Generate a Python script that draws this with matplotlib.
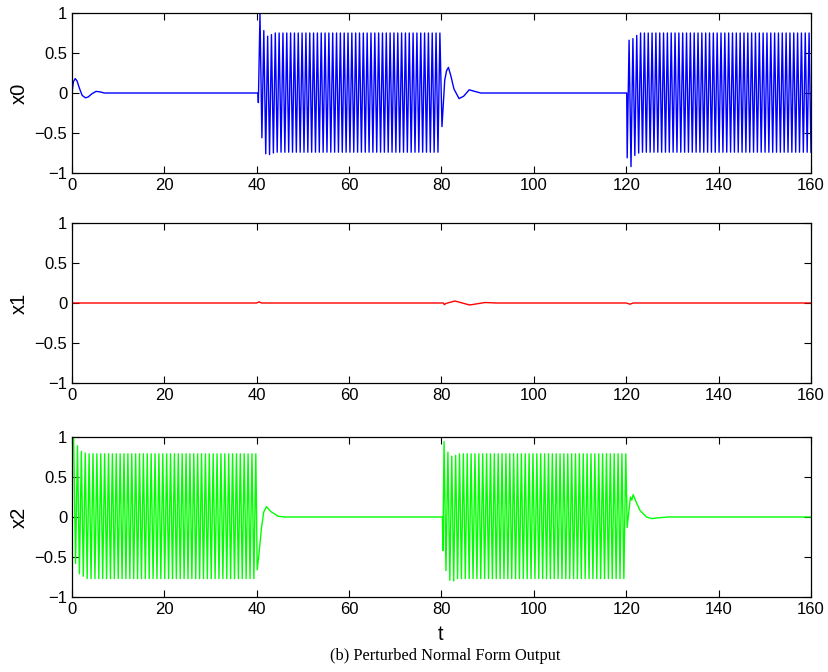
import matplotlib.pyplot as plt
import numpy as np

plt.rcParams['font.family'] = ['Liberation Sans', 'DejaVu Sans']

# ---- data ----
# x0: quiet decay, burst 40-80, decay, burst 120-160
x0_pre1_t = [0, 0.3, 0.7, 1.1, 1.6, 2.2, 2.9, 3.5, 4.3, 5.2, 6.0, 7.0, 8.5, 40.26, 40.35]
x0_pre1_v = [0, 0.14, 0.18, 0.15, 0.06, -0.03, -0.06, -0.05, -0.01, 0.02, 0.015, 0.0, 0.0, 0.0, -0.12]
x0_burst1 = (40.7, 79.65, 95, [0.99, -0.56, 0.78, -0.76, 0.71, -0.77, 0.73, -0.75], 0.75, -0.74)
x0_mid_t = [80.1, 80.7, 81.1, 81.5, 82.0, 82.7, 83.8, 84.8, 86.0, 87.2, 88.5, 120.1]
x0_mid_v = [-0.42, 0.16, 0.28, 0.32, 0.22, 0.05, -0.07, -0.04, 0.04, 0.02, 0.0, 0.0]
x0_burst2 = (120.2, 160.0, 97, [-0.81, 0.66, -0.92, 0.68, -0.78, 0.72, -0.75], 0.75, -0.74)

# x1: stays close to zero
x1_t = [0, 40, 40.5, 41, 42, 80, 80.4, 80.6, 81.0, 82.9, 86.1, 89.4, 92, 120, 120.8, 121.5, 160]
x1_v = [0, 0, 0.015, 0.0, 0, 0, 0, -0.02, -0.005, 0.025, -0.025, 0.006, 0, 0, -0.015, 0, 0]

# x2: burst 0-40, decay, burst 80-120, decay
x2_pre1_t = [0.0]
x2_pre1_v = [0.98]
x2_burst1 = (0.35, 39.8, 95, [1.0, -0.58, 0.89, -0.71, 0.82, -0.74, 0.80], 0.79, -0.77)
x2_mid_t = [40.1, 40.5, 41.0, 41.5, 42.1, 43.0, 44.6, 46.0, 80.2, 80.3]
x2_mid_v = [-0.66, -0.45, -0.15, 0.06, 0.13, 0.07, 0.01, 0.0, 0.0, -0.42]
x2_burst2 = (80.55, 119.9, 95, [0.94, -0.67, 0.81, -0.79, 0.76, -0.80, 0.77, -0.77], 0.79, -0.77)
x2_end_t = [120.2, 120.9, 121.2, 121.5, 122.2, 123.0, 124.4, 125.5, 127, 129, 160]
x2_end_v = [-0.13, 0.25, 0.21, 0.28, 0.18, 0.08, 0.0, -0.02, -0.01, 0, 0]


def burst(spec):
    t0, t1, n, lead, hi, lo = spec
    vals = list(lead)
    while len(vals) < n:
        vals.append(lo if vals[-1] > 0 else hi)
    return list(np.linspace(t0, t1, n)), vals


b1t, b1v = burst(x0_burst1)
b2t, b2v = burst(x0_burst2)
x0_t = x0_pre1_t + b1t + x0_mid_t + b2t
x0_v = x0_pre1_v + b1v + x0_mid_v + b2v

c1t, c1v = burst(x2_burst1)
c2t, c2v = burst(x2_burst2)
x2_t = x2_pre1_t + c1t + x2_mid_t + c2t + x2_end_t
x2_v = x2_pre1_v + c1v + x2_mid_v + c2v + x2_end_v

fig = plt.figure(figsize=(8.29, 6.72), dpi=100)
left, width, height = 72 / 829, 739 / 829, 160 / 672
tops = [13, 223, 437]
series = [(x0_t, x0_v, '#0000ff', 'x0'), (x1_t, x1_v, '#ff0000', 'x1'), (x2_t, x2_v, '#00ff00', 'x2')]

for top, (t, v, col, name) in zip(tops, series):
    ax = fig.add_axes([left, 1 - (top + 160) / 672, width, height])
    ax.plot(t, v, color=col, lw=1.0)
    ax.set_xlim(0, 160)
    ax.set_ylim(-1, 1)
    ax.set_xticks(range(0, 161, 20))
    ax.set_yticks([-1, -0.5, 0, 0.5, 1])
    ax.set_yticklabels(['\u22121', '\u22120.5', '0', '0.5', '1'])
    ax.tick_params(direction='in', top=True, right=True, length=5, labelsize=12, width=0.8)
    ax.set_ylabel(name, fontsize=14.5, labelpad=4)
    for s in ax.spines.values():
        s.set_linewidth(0.9)

fig.text(441 / 829, 1 - 635 / 672, 't', fontsize=14.5, ha='center', va='center')
fig.text(445 / 829, 1 - 656 / 672, '(b) Perturbed Normal Form Output', fontsize=11.8,
         family='Liberation Serif', ha='center', va='center')

fig.savefig('out.png', dpi=100)
